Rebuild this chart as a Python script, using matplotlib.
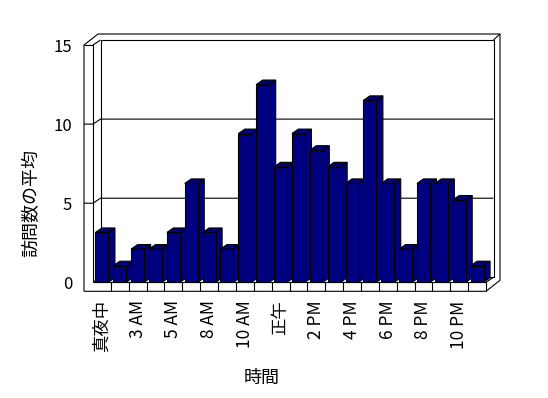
import numpy as np
import matplotlib.pyplot as plt
from matplotlib.patches import Polygon

plt.rcParams['font.family'] = ['Noto Sans CJK JP', 'DejaVu Sans']

# === Datos ===
horas = ["真夜中", "1 AM", "3 AM", "4 AM", "5 AM", "6 AM", "8 AM", "9 AM",
         "10 AM", "11 AM", "正午", "1 PM", "2 PM", "3 PM", "4 PM", "5 PM",
         "6 PM", "7 PM", "8 PM", "9 PM", "10 PM", "11 PM"]
visitas = [3.15, 1.05, 2.1, 2.1, 3.15, 6.25, 3.15, 2.1, 9.4, 12.5, 7.3, 9.4,
           8.35, 7.3, 6.25, 11.5, 6.25, 2.1, 6.25, 6.25, 5.2, 1.05]
marcas_y = [0, 5, 10, 15]
titulo_y = "訪問数の平均"
titulo_x = "時間"

AZUL = "#000080"
LW = 0.8

# === Figura (ejes = plano frontal del grafico 3D) ===
fig = plt.figure(figsize=(5.48, 3.98), dpi=100)
ax = fig.add_axes([93 / 548, (398 - 282.3) / 398, 393 / 548, 237.3 / 398])
ax.set_xlim(-0.5, len(horas) - 0.5)
ax.set_ylim(0, 15)
ax.patch.set_visible(False)
for s in ax.spines.values():
    s.set_visible(False)

# pixeles -> unidades de datos
px_x = 393 / len(horas)
px_y = 237.3 / 15
Dx, Dy = 7.5 / px_x, 5 / px_y      # profundidad del plano
Tx, Ty = 6.5 / px_x, 6 / px_y      # grosor pared del fondo
L = 9 / px_x                       # grosor pared izquierda
H = 9 / px_y                       # grosor del piso
Bx, By = 6.5 / px_x, 4.5 / px_y    # profundidad de las barras
hw = 6.5 / px_x                    # media anchura de barra

x0, x1 = -0.5, len(horas) - 0.5
top = marcas_y[-1]


def linea(pts, z=1):
    xs, ys = zip(*pts)
    ax.plot(xs, ys, color="black", lw=LW, clip_on=False, zorder=z,
            solid_capstyle="butt")


# silueta de paredes y piso
silueta = [(x0 - L, -H), (x0 - L, top), (x0 - L + Dx + Tx, top + Dy + Ty),
           (x1 + Dx + Tx, top + Dy + Ty), (x1 + Dx + Tx, -H + Dy + Ty),
           (x1, -H)]
ax.add_patch(Polygon(silueta, closed=True, facecolor="white", edgecolor="black",
                     lw=LW, clip_on=False, zorder=0.5))

# pared izquierda
linea([(x0 - L, top), (x0, top), (x0, 0)])
linea([(x0, top), (x0 + Dx, top + Dy)])
linea([(x0, 0), (x0 + Dx, Dy)])
# plano del fondo
linea([(x0 + Dx, Dy), (x0 + Dx, top + Dy), (x1 + Dx, top + Dy),
       (x1 + Dx, Dy), (x0 + Dx, Dy)])
linea([(x1 + Dx, top + Dy), (x1 + Dx + Tx, top + Dy + Ty)])
# piso
linea([(x0, 0), (x1, 0), (x1, -H)])
linea([(x1, 0), (x1 + Dx, Dy)])
for k in range(len(horas) - 1):
    linea([(k + 0.5, 0), (k + 0.5, -H)])
# lineas de division
for v in marcas_y[1:-1]:
    linea([(x0 - L, v), (x0, v), (x0 + Dx, v + Dy), (x1 + Dx, v + Dy)])

# barras 3D
x = np.arange(len(horas))
for i, v in zip(x, visitas):
    lado = [(i + hw, 0), (i + hw + Bx, By), (i + hw + Bx, v + By), (i + hw, v)]
    tapa = [(i - hw, v), (i + hw, v), (i + hw + Bx, v + By), (i - hw + Bx, v + By)]
    for pts in (lado, tapa):
        ax.add_patch(Polygon(pts, closed=True, facecolor=AZUL, edgecolor="black",
                             lw=LW, clip_on=False, zorder=3))
ax.bar(x, visitas, width=2 * hw, color=AZUL, edgecolor="black", lw=LW,
       zorder=4, clip_on=False)

# ejes y textos
ax.set_yticks(marcas_y)
ax.set_yticklabels([str(m) for m in marcas_y])
ax.set_xticks(x[::2])
ax.set_xticklabels(horas[::2], rotation=90)
ax.tick_params(axis="y", length=0, pad=15, labelsize=12)
ax.tick_params(axis="x", length=0, pad=13, labelsize=12.5)
ax.set_ylabel(titulo_y, fontsize=13)
ax.yaxis.set_label_coords(-0.133, 0.334)
ax.set_xlabel(titulo_x, fontsize=13)
ax.xaxis.set_label_coords(0.43, -0.365)

fig.savefig("out.png", dpi=100)
